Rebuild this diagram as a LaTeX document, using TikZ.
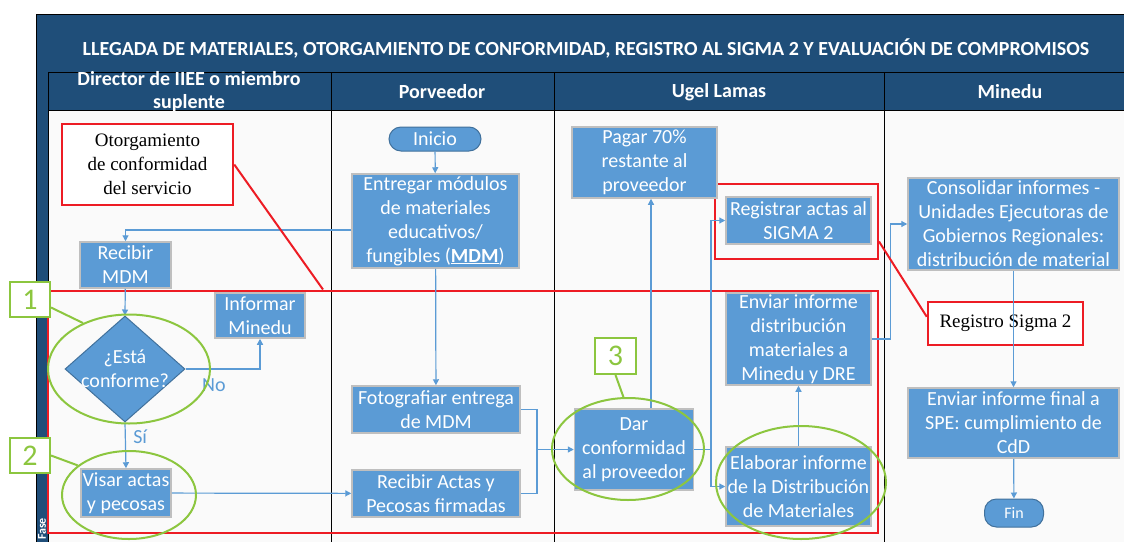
\documentclass[tikz,border=0pt]{standalone}
\usepackage{fontspec}
\setmainfont{Carlito}
\newfontfamily\timesfont{Liberation Serif}
\usetikzlibrary{shapes.geometric,arrows.meta}
\definecolor{boxblue}{RGB}{91,155,213}
\definecolor{edgeblue}{RGB}{65,113,156}
\definecolor{bandblue}{RGB}{31,78,121}
\definecolor{markred}{RGB}{237,28,36}
\definecolor{markgreen}{RGB}{140,198,63}
\definecolor{boxgray}{RGB}{191,191,191}
\begin{document}
\begin{tikzpicture}[
		x=1pt, y=-1pt,
		box/.style={rectangle, draw=boxgray, line width=1.5pt, fill=boxblue, text=white, align=center, inner sep=0pt, font=\fontsize{20}{24}\selectfont},
		term/.style={rectangle, rounded corners=12pt, draw=edgeblue, line width=1pt, fill=boxblue, text=white, inner sep=0pt},
		decision/.style={diamond, draw=edgeblue, line width=1pt, fill=boxblue, inner sep=0pt},
		note/.style={rectangle, draw=markred, line width=2.5pt, fill=white, align=center, inner sep=0pt, font=\timesfont\fontsize{19}{24}\selectfont},
		redframe/.style={rectangle, draw=markred, line width=2pt, inner sep=0pt},
		ring/.style={ellipse, draw=markgreen, line width=2pt, inner sep=0pt},
		tag/.style={rectangle, draw=markgreen, line width=2pt, fill=white, text=markgreen, inner sep=0pt, font=\fontsize{30}{30}\selectfont},
		head/.style={text=white, align=center, font=\bfseries\fontsize{20}{23}\selectfont},
		lbl/.style={text=boxblue, font=\fontsize{20}{22}\selectfont},
		arrow/.style={-{Triangle[length=6pt,width=6pt]}, draw=boxblue, line width=1.2pt},
		link/.style={draw=boxblue, line width=1.2pt},
		redline/.style={draw=markred, line width=2pt},
		greenline/.style={draw=markgreen, line width=2pt}
	]
	\useasboundingbox (0,0) rectangle (1124,541);
	\fill[white!98!black] (48,110) rectangle (1126,543);
	\fill[bandblue] (36,14) rectangle (1126,110);
	\fill[bandblue] (36,72) rectangle (48,543);
	\draw[line width=1pt] (36,543) -- (36,14) -- (1126,14);
	\draw[line width=0.8pt] (48,543) -- (48,72) -- (1126,72) (48,110) -- (1126,110);
	\draw[line width=0.8pt] (331,72) -- (331,543) (554,72) -- (554,543) (884,72) -- (884,543);

	\node[head] (title) at (586,48) {LLEGADA DE MATERIALES, OTORGAMIENTO DE CONFORMIDAD, REGISTRO AL SIGMA 2 Y EVALUACIÓN DE COMPROMISOS};
	\node[head] (lane1) at (189,91.5) {Director de IIEE o miembro\\suplente};
	\node[head] (lane2) at (442,92) {Porveedor};
	\node[head] (lane3) at (719,92) {Ugel Lamas};
	\node[head] (lane4) at (1010,92) {Minedu};
	\node[rotate=90, text=white, font=\bfseries\fontsize{12}{12}\selectfont] (fase) at (42,529) {Fase};

	\node[redframe, minimum width=830pt, minimum height=242.5pt] (zona) at (463,411.75) {};
	\node[redframe, minimum width=163pt, minimum height=75pt] (regframe) at (796.5,221.5) {};

	\node[note, minimum width=171pt, minimum height=81pt] (otorg) at (147.5,164.5) {Otorgamiento\\de conformidad\\del servicio};
	\node[note, minimum width=155pt, minimum height=43pt] (sigma) at (1005.5,323.5) {Registro Sigma 2};

	\node[term, minimum width=92pt, minimum height=24pt, font=\fontsize{20}{22}\selectfont] (inicio) at (435,139) {Inicio};
	\node[box, minimum width=167pt, minimum height=94pt] (entregar) at (435.5,221) {Entregar módulos\\de materiales\\educativos/\\fungibles (\textbf{\underline{MDM}})};
	\node[box, minimum width=91pt, minimum height=46pt] (recibir) at (125.5,265) {Recibir\\MDM};
	\node[decision, minimum width=120pt, minimum height=106pt, label={[text=white, align=center, font=\fontsize{20}{24}\selectfont]center:{¿Está\\conforme?}}] (conforme) at (125,369) {};
	\node[box, minimum width=90pt, minimum height=45pt] (informar) at (260,315.5) {Informar\\Minedu};
	\node[box, minimum width=90pt, minimum height=48pt] (visar) at (126,493) {Visar actas\\y pecosas};
	\node[box, minimum width=168pt, minimum height=47pt] (foto) at (436,409.5) {Fotografiar entrega\\de MDM};
	\node[box, minimum width=168pt, minimum height=47pt] (recactas) at (436,493.5) {Recibir Actas y\\Pecosas firmadas};
	\node[box, minimum width=145pt, minimum height=71pt] (pagar) at (644.5,162.5) {Pagar 70\%\\restante al\\proveedor};
	\node[box, minimum width=145pt, minimum height=47pt] (registrar) at (798.5,220.5) {Registrar actas al\\SIGMA 2};
	\node[box, minimum width=119pt, minimum height=81pt] (dar) at (634,449.5) {Dar\\conformidad\\al proveedor};
	\node[box, minimum width=145pt, minimum height=92pt] (enviar) at (798.5,339) {Enviar informe\\distribución\\materiales a\\Minedu y DRE};
	\node[box, minimum width=145pt, minimum height=79pt] (elaborar) at (798.5,486.5) {Elaborar informe\\de la Distribución\\de Materiales};
	\node[box, minimum width=211pt, minimum height=92pt] (consolidar) at (1013.5,224) {Consolidar informes -\\Unidades Ejecutoras de\\Gobiernos Regionales:\\distribución de material};
	\node[box, minimum width=211pt, minimum height=70pt] (final) at (1013.5,423) {Enviar informe final a\\SPE: cumplimiento de\\CdD};
	\node[term, minimum width=59pt, minimum height=28pt, font=\fontsize{16}{18}\selectfont] (fin) at (1014,513) {Fin};

	\coordinate (join) at (537,449.5);
	\coordinate (split) at (711,449.5);

	\draw[arrow] (inicio) -- (entregar);
	\draw[arrow] ([yshift=-9pt]entregar.west) -| (recibir.north);
	\draw[arrow] (recibir) -- (conforme.north);
	\draw[arrow] (conforme.east) -| (informar.south) node[pos=0.19, below=6pt, lbl] (no) {No};
	\draw[arrow] (conforme.south) -- (visar.north) node[pos=0.32, right=4pt, lbl] (si) {Sí};
	\draw[arrow] (visar) -- (recactas);
	\draw[arrow] (entregar) -- (foto);
	\draw[link] (foto.east) -| (join);
	\draw[link] (recactas.east) -| (join);
	\draw[arrow] (join) -- (dar.west);
	\draw[arrow] ([xshift=17pt]dar.north) -- ([xshift=17pt]dar.north |- pagar.south);
	\draw[link] (dar.east) -- (split);
	\draw[arrow] (split) |- (registrar.west);
	\draw[arrow] (split) |- (elaborar.west);
	\draw[arrow] (elaborar) -- (enviar);
	\draw[arrow] (enviar.east) -- ++(19,0) |- (consolidar.west);
	\draw[arrow] (consolidar) -- (final);
	\draw[arrow] (final) -- (fin);

	\draw[redline] (otorg.east) -- ([xshift=-140pt]zona.north);
	\draw[redline] ([yshift=-20pt]regframe.east) -- ([yshift=-16pt]sigma.north west);

	\node[ring, minimum width=162pt, minimum height=109pt] (ring1) at (129,369) {};
	\node[ring, minimum width=134pt, minimum height=88pt] (ring2) at (129,495) {};
	\node[ring, minimum width=152pt, minimum height=102pt] (ring3) at (628,449) {};
	\node[ring, minimum width=170pt, minimum height=113pt] (ring4) at (801,482.5) {};
	\node[tag, minimum width=40pt, minimum height=35pt] (tag1) at (30,299.5) {1};
	\node[tag, minimum width=40pt, minimum height=35pt] (tag2) at (30,455.5) {2};
	\node[tag, minimum width=41pt, minimum height=36pt] (tag3) at (615.5,356) {3};
	\draw[greenline] ([yshift=-8pt]tag1.east) -- (ring1.135);
	\draw[greenline] (tag2.east) -- (ring2.150);
	\draw[greenline] (tag3.south) -- (ring3.95);
\end{tikzpicture}
\end{document}
